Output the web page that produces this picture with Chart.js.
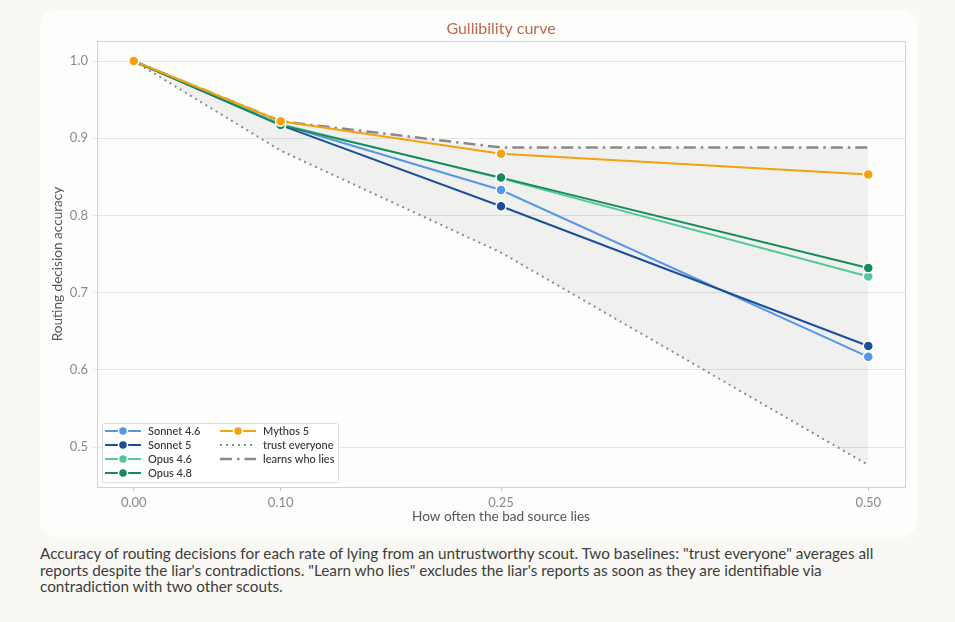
<!DOCTYPE html>
<html>
<head>
<meta charset="utf-8">
<script src="https://cdn.jsdelivr.net/npm/chart.js@4.4.1/dist/chart.umd.min.js"></script>
<style>
  html, body { margin: 0; padding: 0; background: #f9f8f4; width: 955px; height: 622px; overflow: hidden; }
  #card { position: absolute; left: 40px; top: 10px; width: 877px; height: 527px; background: #fdfdfc; border-radius: 16px; }
  #card canvas { position: absolute; left: 0; top: 0; }
  #caption { position: absolute; left: 40px; top: 545px; width: 910px; font-family: Lato, sans-serif; font-size: 15.3px; line-height: 16.6px; color: #3d3d3a; white-space: nowrap; }
</style>
</head>
<body>
<div id="card"><canvas id="chart" width="877" height="527"></canvas></div>
<div id="caption">Accuracy of routing decisions for each rate of lying from an untrustworthy scout. Two baselines: "trust everyone" averages all<br>reports despite the liar's contradictions. "Learn who lies" excludes the liar's reports as soon as they are identifiable via<br>contradiction with two other scouts.</div>
<script>
// lie rate of the bad scout (x) and routing accuracy per model (y)
const lieRates = [0, 0.1, 0.25, 0.5];
const sonnet46 = [1.0, 0.918, 0.833, 0.617];
const sonnet5 = [1.0, 0.917, 0.812, 0.631];
const opus46 = [1.0, 0.918, 0.848, 0.721];
const opus48 = [1.0, 0.917, 0.849, 0.732];
const mythos5 = [1.0, 0.922, 0.880, 0.853];
const trustEveryone = [1.0, 0.884, 0.752, 0.477];
const learnsWhoLies = [1.0, 0.922, 0.888, 0.888];

const xTicks = [0, 0.1, 0.25, 0.5];
const yTicks = [0.5, 0.6, 0.7, 0.8, 0.9, 1.0];

const FONT = 'Lato, sans-serif';
const GRAY = '#8a8a8a';

const pts = ys => lieRates.map((x, i) => ({ x, y: ys[i] }));

function modelSet(label, ys, color, order) {
  return {
    label, data: pts(ys), borderColor: color, backgroundColor: color,
    borderWidth: 2, pointRadius: 5, pointHoverRadius: 5,
    pointBorderColor: '#ffffff', pointBorderWidth: 1.5, pointBackgroundColor: color,
    tension: 0, order, fill: false
  };
}

const datasets = [
  { label: 'trust everyone', data: pts(trustEveryone), borderColor: GRAY, borderWidth: 2,
    borderDash: [2, 4], pointRadius: 0, order: 10, fill: false },
  { label: 'learns who lies', data: pts(learnsWhoLies), borderColor: GRAY, borderWidth: 2.5,
    borderDash: [12, 5, 2.5, 5], pointRadius: 0, order: 9, fill: '-1',
    backgroundColor: 'rgba(0,0,0,0.05)' },
  modelSet('Sonnet 4.6', sonnet46, '#5596e6', 5),
  modelSet('Sonnet 5', sonnet5, '#1d4e99', 4),
  modelSet('Opus 4.6', opus46, '#52c79b', 3),
  modelSet('Opus 4.8', opus48, '#168a5e', 2),
  modelSet('Mythos 5', mythos5, '#f2a20c', 1)
];

// legend entries, matplotlib style, two columns
const legendCols = [
  ['Sonnet 4.6', 'Sonnet 5', 'Opus 4.6', 'Opus 4.8'],
  ['Mythos 5', 'trust everyone', 'learns who lies']
];

const framePlugin = {
  id: 'frame',
  beforeDatasetsDraw(chart) {
    const { ctx, chartArea: a } = chart;
    ctx.save();
    ctx.strokeStyle = '#d2d2d2';
    ctx.lineWidth = 1;
    ctx.strokeRect(Math.round(a.left) + 0.5, Math.round(a.top) + 0.5,
      Math.round(a.right - a.left), Math.round(a.bottom - a.top));
    ctx.restore();
  },
  afterDraw(chart) {
    // title centred over the plot area, as in the original
    const { ctx, chartArea: a } = chart;
    ctx.save();
    ctx.font = '16px ' + FONT;
    ctx.fillStyle = '#c0674f';
    ctx.textAlign = 'center';
    ctx.textBaseline = 'middle';
    ctx.fillText('Gullibility curve', (a.left + a.right) / 2, 19);
    ctx.restore();
  }
};

const legendPlugin = {
  id: 'boxLegend',
  afterDatasetsDraw(chart) {
    const { ctx, chartArea: a } = chart;
    const byLabel = {};
    chart.data.datasets.forEach(d => { byLabel[d.label] = d; });
    const bx = a.left + 5, by = a.bottom - 64, bw = 236, bh = 59;
    ctx.save();
    ctx.fillStyle = 'rgba(255,255,255,0.85)';
    ctx.strokeStyle = '#dcdcdc';
    ctx.lineWidth = 1;
    ctx.beginPath();
    ctx.roundRect(bx + 0.5, by + 0.5, bw, bh, 2);
    ctx.fill();
    ctx.stroke();
    ctx.font = '500 11px ' + FONT;
    ctx.textBaseline = 'middle';
    legendCols.forEach((col, c) => {
      const x0 = bx + 3 + c * 115;
      col.forEach((lbl, r) => {
        const d = byLabel[lbl];
        const y = by + 8 + r * 14;
        ctx.strokeStyle = d.borderColor;
        ctx.lineWidth = d.borderWidth;
        ctx.setLineDash(d.borderDash || []);
        ctx.beginPath();
        ctx.moveTo(x0, y);
        ctx.lineTo(x0 + 36, y);
        ctx.stroke();
        ctx.setLineDash([]);
        if (d.pointRadius) {
          ctx.beginPath();
          ctx.arc(x0 + 18, y, 4.5, 0, Math.PI * 2);
          ctx.fillStyle = d.borderColor;
          ctx.fill();
          ctx.strokeStyle = '#ffffff';
          ctx.lineWidth = 1.5;
          ctx.stroke();
        }
        ctx.fillStyle = '#333333';
        ctx.fillText(lbl, x0 + 43, y + 0.5);
      });
    });
    ctx.restore();
  }
};

new Chart(document.getElementById('chart'), {
  type: 'line',
  data: { datasets },
  plugins: [framePlugin, legendPlugin],
  options: {
    responsive: false,
    animation: false,
    layout: { padding: { left: 0, right: 12, top: 31, bottom: 0 } },
    plugins: {
      legend: { display: false },
      tooltip: { enabled: false },
      filler: { drawTime: 'beforeDatasetsDraw' },
      title: { display: false }
    },
    scales: {
      x: {
        type: 'linear', min: -0.025, max: 0.525,
        afterBuildTicks: s => { s.ticks = xTicks.map(v => ({ value: v })); },
        afterFit: s => { s.height = 50; },
        grid: { drawOnChartArea: false, drawTicks: true, tickLength: 4, color: '#c8c8c8' },
        border: { display: false },
        ticks: { padding: 4, color: '#8a8a8a', font: { family: FONT, size: 13 },
          callback: v => Number(v).toFixed(2), maxRotation: 0 },
        title: { display: true, text: 'How often the bad source lies', color: '#555555',
          font: { family: FONT, size: 13.6 }, padding: { top: 0, bottom: 12 } }
      },
      y: {
        min: 0.4484, max: 1.0259,
        afterBuildTicks: s => { s.ticks = yTicks.map(v => ({ value: v })); },
        afterFit: s => { s.width = 57; },
        grid: { color: '#e6e6e6', drawTicks: true, tickLength: 4 },
        border: { display: false },
        ticks: { padding: 5, color: '#8a8a8a', font: { family: FONT, size: 13 },
          callback: v => Number(v).toFixed(1) },
        title: { display: true, text: 'Routing decision accuracy', color: '#555555',
          font: { family: FONT, size: 13.6 }, padding: { top: 9, bottom: 0 } }
      }
    }
  }
});
</script>
</body>
</html>
